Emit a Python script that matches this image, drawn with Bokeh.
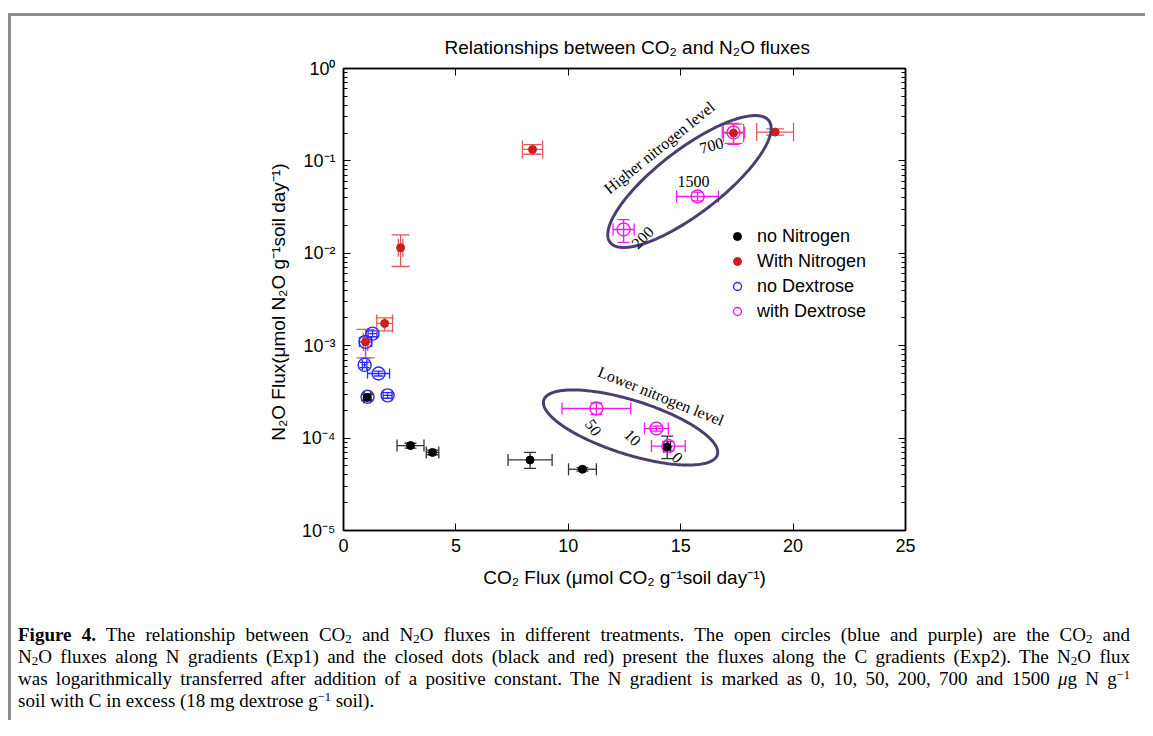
import numpy as np
from bokeh.plotting import figure
from bokeh.models import (ColumnDataSource, Whisker, TeeHead, Label, LinearAxis, LogAxis,
                          FixedTicker, CustomJSTickFormatter, Legend, LegendItem, Div, Range1d)
from bokeh.layouts import column
from bokeh.embed import file_html
from bokeh.resources import INLINE

# ---------------- data ----------------
# no Nitrogen (closed black dots)
nn_x = [1.05, 2.98, 3.96, 8.30, 10.63, 14.40]
nn_y = [2.75e-4, 8.3e-5, 7.0e-5, 5.8e-5, 4.6e-5, 8.0e-5]
nn_xerr = [0.15, 0.60, 0.28, 0.98, 0.62, 0.15]
nn_ylo = [2.55e-4, 7.8e-5, 6.6e-5, 4.7e-5, 4.4e-5, 6.0e-5]
nn_yhi = [2.95e-4, 8.8e-5, 7.4e-5, 7.0e-5, 4.8e-5, 1.05e-4]

# With Nitrogen (closed red dots)
wn_x = [0.98, 1.83, 2.54, 8.41, 17.35, 19.20]
wn_y = [1.10e-3, 1.74e-3, 1.15e-2, 0.133, 0.200, 0.205]
wn_xerr = [0.10, 0.35, 0.10, 0.45, 0.45, 0.82]
wn_ylo = [7.4e-4, 1.45e-3, 7.2e-3, 0.118, 0.155, 0.190]
wn_yhi = [1.50e-3, 2.00e-3, 1.58e-2, 0.150, 0.250, 0.222]

# no Dextrose (open blue circles)
nd_x = [1.29, 0.98, 0.94, 1.56, 1.07, 1.96]
nd_y = [1.35e-3, 1.10e-3, 6.2e-4, 5.0e-4, 2.8e-4, 2.9e-4]
nd_xerr = [0.20, 0.27, 0.10, 0.49, 0.15, 0.20]
nd_ylo = [1.25e-3, 7.4e-4, 5.8e-4, 4.7e-4, 2.6e-4, 2.7e-4]
nd_yhi = [1.45e-3, 1.25e-3, 6.6e-4, 5.3e-4, 3.0e-4, 3.1e-4]

# with Dextrose (open magenta circles), N gradient 0, 10, 50, 200, 1500, 700
wd_x = [14.45, 13.92, 11.25, 12.46, 15.75, 17.35]
wd_y = [8.2e-5, 1.27e-4, 2.09e-4, 0.0181, 0.0412, 0.203]
wd_xerr = [0.75, 0.53, 1.53, 0.47, 0.93, 0.50]
wd_ylo = [7.3e-5, 1.19e-4, 1.80e-4, 0.0131, 0.0370, 0.151]
wd_yhi = [9.2e-5, 1.35e-4, 2.40e-4, 0.0232, 0.0460, 0.254]

x_ticks = [0, 5, 10, 15, 20, 25]
y_exponents = [-5, -4, -3, -2, -1, 0]

series_names = ["no Nitrogen", "With Nitrogen", "no Dextrose", "with Dextrose"]
title_text = "Relationships between CO\u2082 and N\u2082O fluxes"
x_label = "CO\u2082 Flux (\u03bcmol CO\u2082 g\u207b\u00b9soil day\u207b\u00b9)"
y_label = "N\u2082O Flux(\u03bcmol N\u2082O  g\u207b\u00b9soil day\u207b\u00b9)"

# ---------------- figure ----------------
SANS = "Liberation Sans"
SERIF = "Liberation Serif"
FW, FH = 1134, 590
ML, MR, MT, MB = 332, 240, 52, 76
PX_X = (FW - ML - MR) / 25.0          # px per x unit
PX_DEC = (FH - MT - MB) / 5.0         # px per decade

p = figure(width=FW, height=FH, x_range=Range1d(0, 25), y_range=Range1d(1e-5, 1),
           y_axis_type="log", output_backend="svg", toolbar_location=None,
           min_border_left=ML, min_border_right=MR, min_border_top=MT, min_border_bottom=MB,
           title=title_text)
p.title.align = "left"
p.title.offset = 101
p.title.text_font = SANS
p.title.text_font_size = "19px"
p.title.text_font_style = "normal"
p.title.text_color = "black"
p.title.standoff = 22
p.grid.visible = False
p.outline_line_color = "black"
p.outline_line_width = 1.5
p.background_fill_color = "white"
p.border_fill_color = "white"

y_major = [10.0 ** e for e in y_exponents]
y_minor = [k * 10.0 ** e for e in y_exponents[:-1] for k in range(2, 10)]
xt = FixedTicker(ticks=x_ticks)
yt = FixedTicker(ticks=y_major, minor_ticks=y_minor)

fmt = CustomJSTickFormatter(code="""
const sup = {"-": "\u207b", "0": "\u2070", "1": "\u00b9", "2": "\u00b2", "3": "\u00b3",
             "4": "\u2074", "5": "\u2075", "6": "\u2076", "7": "\u2077", "8": "\u2078", "9": "\u2079"};
const e = Math.round(Math.log10(tick));
return "10" + String(e).split("").map(c => sup[c]).join("");
""")
blank = CustomJSTickFormatter(code="return '';")

def style_axis(ax):
    ax.axis_line_color = "black"
    ax.axis_line_width = 1.5
    ax.major_tick_in = 7
    ax.major_tick_out = 0
    ax.minor_tick_in = 4
    ax.minor_tick_out = 0
    ax.major_tick_line_color = "black"
    ax.minor_tick_line_color = "black"
    ax.major_label_text_font = SANS
    ax.major_label_text_font_size = "18px"
    ax.major_label_text_color = "black"
    ax.axis_label_text_font = SANS
    ax.axis_label_text_font_size = "19px"
    ax.axis_label_text_font_style = "normal"
    ax.axis_label_text_color = "black"

xa = p.xaxis[0]
xa.ticker = xt
style_axis(xa)
xa.minor_tick_in = 0
xa.axis_label = x_label
xa.major_label_standoff = 8
xa.axis_label_standoff = 12

ya = p.yaxis[0]
ya.ticker = yt
ya.formatter = fmt
style_axis(ya)
ya.axis_label = y_label
ya.major_label_standoff = 8
ya.axis_label_standoff = 10

top = LinearAxis(ticker=xt, formatter=blank)
style_axis(top)
top.minor_tick_in = 0
top.major_label_standoff = 0
p.add_layout(top, "above")
right = LogAxis(ticker=yt, formatter=blank)
style_axis(right)
right.major_label_standoff = 0
p.add_layout(right, "right")

# ---------------- error bars + markers ----------------
def add_series(xs, ys, xerr, ylo, yhi, bar_color, cap, marker_kw):
    src = ColumnDataSource(dict(x=xs, y=ys,
                                xl=[a - b for a, b in zip(xs, xerr)],
                                xh=[a + b for a, b in zip(xs, xerr)],
                                yl=ylo, yh=yhi))
    for base, lo, hi, dim in (("x", "yl", "yh", "height"), ("y", "xl", "xh", "width")):
        w = Whisker(source=src, base=base, lower=lo, upper=hi, dimension=dim,
                    line_color=bar_color, line_width=1.3,
                    lower_head=TeeHead(size=cap, line_color=bar_color, line_width=1.3),
                    upper_head=TeeHead(size=cap, line_color=bar_color, line_width=1.3))
        p.add_layout(w)
    return p.scatter("x", "y", source=src, **marker_kw)

BLACK = "#000000"
RED = "#d01c1c"
BLUE = "#2a2aff"
MAG = "#f01af0"

r_wd = add_series(wd_x, wd_y, wd_xerr, wd_ylo, wd_yhi, MAG, 12,
                  dict(marker="circle", size=13, fill_color=None, line_color=MAG, line_width=1.4))
r_nd = add_series(nd_x, nd_y, nd_xerr, nd_ylo, nd_yhi, BLUE, 10,
                  dict(marker="circle", size=13, fill_color=None, line_color=BLUE, line_width=1.4))
r_wn = add_series(wn_x, wn_y, wn_xerr, wn_ylo, wn_yhi, "#e05a5a", 18,
                  dict(marker="circle", size=8, fill_color=RED, line_color=RED))
r_nn = add_series(nn_x, nn_y, nn_xerr, nn_ylo, nn_yhi, "#333333", 12,
                  dict(marker="circle", size=8, fill_color=BLACK, line_color=BLACK))

# ---------------- grouping ellipses ----------------
def ellipse(cx, cy_log, a_px, b_px, ang_deg, n=240):
    t = np.linspace(0, 2 * np.pi, n)
    th = np.radians(ang_deg)
    ex, ey = a_px * np.cos(t), b_px * np.sin(t)
    px = ex * np.cos(th) - ey * np.sin(th)
    py = ex * np.sin(th) + ey * np.cos(th)
    return cx + px / PX_X, 10 ** (cy_log + py / PX_DEC)

EC = "#4b3f72"
hx, hy = ellipse(15.39, -1.223, 100, 32, 37.5)
p.line(hx, hy, line_color=EC, line_width=3)
lx, ly = ellipse(12.77, -3.885, 91, 27, -17.5)
p.line(lx, ly, line_color=EC, line_width=3)

def note(text, x, ylog, ang, size="16px"):
    p.add_layout(Label(x=x, y=10 ** ylog, text=text, angle=float(np.radians(ang)),
                       text_align="center", text_baseline="middle",
                       text_font=SERIF, text_font_size=size, text_color="black"))

note("Higher nitrogen level", 14.05, -0.855, 38.8)
note("700", 16.37, -0.833, 15)
note("1500", 15.57, -1.223, 0)
note("200", 13.30, -1.829, 45)
note("Lower nitrogen level", 14.12, -3.545, -22)
note("50", 11.12, -3.885, -55)
note("10", 12.86, -3.994, -45)
note("0", 14.86, -4.21, -45)

# ---------------- legend ----------------
legend = Legend(items=[LegendItem(label=series_names[0], renderers=[r_nn]),
                       LegendItem(label=series_names[1], renderers=[r_wn]),
                       LegendItem(label=series_names[2], renderers=[r_nd]),
                       LegendItem(label=series_names[3], renderers=[r_wd])],
                location=(380, 204), border_line_alpha=0, background_fill_alpha=0,
                label_text_font=SANS, label_text_font_size="18px", label_text_color="black",
                glyph_width=20, glyph_height=22, label_height=20, spacing=3, padding=4,
                label_standoff=10)
p.add_layout(legend)

# ---------------- caption ----------------
SUB = '<sub style="line-height:0;font-size:68%;vertical-align:-0.18em">2</sub>'
SUP = '<sup style="line-height:0;font-size:65%;vertical-align:0.45em">\u22121</sup>'
JL = 'style="display:block;width:1112px;text-align:justify;text-align-last:justify;white-space:normal"'
cap_lines = [
    f'<b>Figure 4.</b> The relationship between CO{SUB} and N{SUB}O fluxes in different treatments. '
    f'The open circles (blue and purple) are the CO{SUB} and',
    f'N{SUB}O fluxes along N gradients (Exp1) and the closed dots (black and red) present the fluxes '
    f'along the C gradients (Exp2). The N{SUB}O flux',
    f'was logarithmically transferred after addition of a positive constant. The N gradient is marked '
    f'as 0, 10, 50, 200, 700 and 1500 <i>\u03bc</i>g N g{SUP}',
    f'soil with C in excess (18 mg dextrose g{SUP} soil).',
]
cap_html = "".join(f'<div {JL}>{l}</div>' for l in cap_lines[:-1]) + f'<div>{cap_lines[-1]}</div>'
cap = Div(text=cap_html, width=1112, height=96, margin=(18, 0, 0, 7),
          styles={"font-family": SERIF, "font-size": "19px", "line-height": "22px", "color": "black"})

layout = column(p, cap, margin=(13, 0, 0, 8),
                styles={"border-top": "3px solid #8c8c8c", "border-left": "3px solid #8c8c8c",
                        "background-color": "white"})

open("out.html", "w").write(file_html(layout, INLINE))
